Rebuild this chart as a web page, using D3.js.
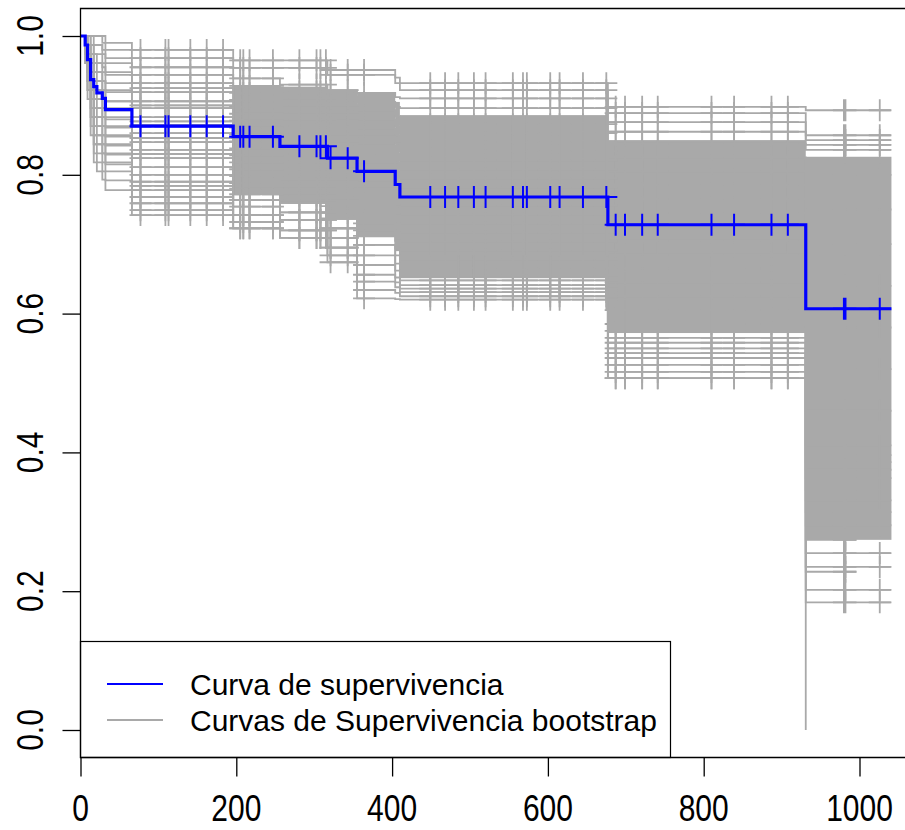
<!DOCTYPE html>
<html>
<head>
<meta charset="utf-8">
<script src="https://cdn.jsdelivr.net/npm/d3@7"></script>
<style>
  body { margin: 0; background: #fff; }
  svg { display: block; }
  text { font-family: "Liberation Sans", Arial, sans-serif; fill: #000; }
</style>
</head>
<body>
<svg id="chart" width="905" height="830"></svg>
<script>
// Event times (days) shared by the observed curve and the resampled curves
const eventTimes = [6, 9, 13, 17, 21, 28, 32, 66, 196, 256, 317, 355, 404, 410, 677, 931];

// Kaplan-Meier estimate: survival in each interval between event times
const survMain = [1.000, 0.987, 0.966, 0.937, 0.927, 0.918, 0.910, 0.894, 0.870,
                  0.855, 0.841, 0.824, 0.805, 0.786, 0.768, 0.728, 0.607];
const mainEnd = 1041;

// Censoring times (marked with "+")
const censorTimes = [77, 109, 113, 141, 162, 183, 205, 209, 217, 247, 281, 303, 308, 315,
                     321, 343, 364, 449, 468, 485, 505, 520, 555, 568, 573, 603, 615, 645,
                     675, 687, 699, 721, 741, 810, 839, 887, 908, 980, 982, 1026];

// Bootstrap Kaplan-Meier curves: survival in each interval (same breakpoints)
const bootSurv = [
  [1.000,1.000,1.000,1.000,1.000,1.000,1.000,0.990,0.980,0.965,0.965,0.951,0.951,0.940,0.932,0.898,0.893],
  [1.000,1.000,1.000,1.000,1.000,1.000,0.990,0.980,0.968,0.954,0.954,0.944,0.944,0.932,0.922,0.889,0.857],
  [1.000,1.000,1.000,1.000,0.987,0.987,0.980,0.968,0.955,0.939,0.930,0.922,0.918,0.912,0.910,0.876,0.850],
  [1.000,1.000,1.000,0.987,0.987,0.987,0.974,0.961,0.944,0.928,0.920,0.912,0.905,0.898,0.896,0.862,0.843],
  [1.000,1.000,1.000,0.987,0.974,0.974,0.961,0.948,0.932,0.918,0.910,0.900,0.893,0.884,0.873,0.845,0.836],
  [1.000,1.000,0.987,0.987,0.974,0.961,0.955,0.944,0.925,0.908,0.900,0.890,0.880,0.870,0.860,0.825,0.800],
  [1.000,1.000,0.987,0.974,0.961,0.961,0.948,0.932,0.919,0.898,0.890,0.878,0.867,0.857,0.847,0.805,0.750],
  [1.000,1.000,0.987,0.974,0.961,0.948,0.935,0.922,0.906,0.888,0.880,0.866,0.855,0.845,0.834,0.785,0.700],
  [1.000,1.000,0.987,0.974,0.948,0.948,0.935,0.919,0.900,0.878,0.870,0.855,0.842,0.830,0.821,0.765,0.640],
  [1.000,1.000,0.987,0.961,0.948,0.935,0.922,0.906,0.896,0.868,0.860,0.845,0.830,0.818,0.808,0.745,0.580],
  [1.000,0.987,0.974,0.961,0.935,0.935,0.922,0.906,0.883,0.858,0.850,0.834,0.818,0.805,0.795,0.725,0.520],
  [1.000,0.987,0.974,0.961,0.935,0.922,0.909,0.896,0.877,0.848,0.840,0.823,0.805,0.792,0.782,0.705,0.460],
  [1.000,0.987,0.974,0.948,0.922,0.922,0.909,0.893,0.872,0.838,0.830,0.812,0.792,0.780,0.769,0.685,0.410],
  [1.000,0.987,0.974,0.948,0.922,0.909,0.896,0.883,0.860,0.828,0.820,0.800,0.780,0.766,0.756,0.665,0.396],
  [1.000,0.987,0.961,0.948,0.909,0.909,0.896,0.880,0.853,0.818,0.810,0.790,0.768,0.754,0.743,0.645,0.386],
  [1.000,0.987,0.961,0.935,0.909,0.896,0.883,0.870,0.847,0.808,0.800,0.778,0.755,0.741,0.730,0.625,0.375],
  [1.000,0.987,0.961,0.935,0.896,0.896,0.883,0.868,0.836,0.798,0.790,0.766,0.742,0.729,0.717,0.605,0.363],
  [1.000,0.987,0.961,0.935,0.896,0.883,0.870,0.857,0.830,0.788,0.780,0.755,0.730,0.716,0.704,0.585,0.346],
  [1.000,0.987,0.948,0.922,0.883,0.883,0.870,0.855,0.824,0.780,0.770,0.745,0.720,0.705,0.691,0.575,0.331],
  [1.000,0.987,0.948,0.922,0.883,0.870,0.857,0.844,0.811,0.772,0.760,0.737,0.712,0.694,0.678,0.565,0.314],
  [1.000,0.974,0.948,0.909,0.870,0.870,0.857,0.842,0.800,0.764,0.746,0.723,0.699,0.684,0.666,0.558,0.295],
  [1.000,0.974,0.948,0.909,0.870,0.857,0.844,0.831,0.790,0.764,0.746,0.723,0.699,0.672,0.655,0.550,0.274],
  [1.000,0.974,0.935,0.896,0.857,0.857,0.844,0.829,0.784,0.754,0.735,0.709,0.684,0.662,0.648,0.543,0.255],
  [1.000,0.974,0.935,0.896,0.857,0.844,0.831,0.818,0.778,0.742,0.735,0.709,0.670,0.652,0.641,0.536,0.235],
  [1.000,0.974,0.935,0.883,0.844,0.844,0.831,0.815,0.768,0.742,0.720,0.695,0.656,0.645,0.636,0.526,0.228],
  [1.000,0.974,0.922,0.883,0.844,0.831,0.818,0.805,0.759,0.732,0.720,0.695,0.646,0.638,0.631,0.516,0.202],
  [1.000,0.961,0.922,0.870,0.831,0.818,0.805,0.792,0.749,0.723,0.709,0.684,0.634,0.630,0.625,0.507,0.184],
  [1.000,0.961,0.909,0.857,0.818,0.805,0.793,0.778,0.742,0.723,0.709,0.674,0.622,0.621,0.620,0.507,0.000]
];
// Last follow-up time of each bootstrap sample
const bootEnd = [1041,1041,1041,1041,1041,1041,1041,1041,1041,1041,1041,1041,1041,1041,
                 1041,1041,1041,996,1041,1041,1041,996,1041,1041,996,1041,1041,931];

// Range densely covered by overlapping bootstrap curves, per interval (null = none)
const bandHi = [null,null,null,null,null,null,null,null,null,0.929,0.927,0.922,0.918,0.905,0.886,0.850,0.826];
const bandLo = [null,null,null,null,null,null,null,null,null,0.771,0.758,0.735,0.710,0.690,0.651,0.572,0.274];

const xTicks = [0, 200, 400, 600, 800, 1000];
const yTicks = [0.0, 0.2, 0.4, 0.6, 0.8, 1.0];
const legendLabels = ["Curva de supervivencia", "Curvas de Supervivencia bootstrap"];

const BLUE = "#0000ff", GRAY = "#a9a9a9";
const FONT = 30, STRETCH = 1.2;   // axis glyphs drawn slightly taller than wide
const svg = d3.select("#chart");

const x = d3.scaleLinear().domain([0, 1000]).range([80.5, 859.5]);
const y = d3.scaleLinear().domain([0, 1]).range([730, 36]);
const frame = { left: 80.5, top: 8.5, right: 960, bottom: 757.5 };

svg.append("defs").append("clipPath").attr("id", "plotClip")
  .append("rect").attr("x", frame.left).attr("y", frame.top)
  .attr("width", frame.right - frame.left).attr("height", frame.bottom - frame.top);

const plot = svg.append("g").attr("clip-path", "url(#plotClip)");

const intervalEnd = i => (i < eventTimes.length ? eventTimes[i] : Infinity);
const intervalStart = i => (i === 0 ? 0 : eventTimes[i - 1]);
const idxAt = t => eventTimes.filter(e => e <= t).length;

function stepPoints(vals, end) {
  const pts = [[0, vals[0]]];
  for (let i = 0; i < eventTimes.length && eventTimes[i] <= end; i++) {
    pts.push([eventTimes[i], vals[i + 1]]);
  }
  pts.push([end, vals[idxAt(end)]]);
  return pts;
}

const line = d3.line().x(d => x(d[0])).y(d => y(d[1])).curve(d3.curveStepAfter);

function plusPath(vals, end, half) {
  return censorTimes.filter(t => t <= end).map(t => {
    const px = x(t), py = y(vals[idxAt(t)]);
    return `M${px - half},${py}H${px + half}M${px},${py - half}V${py + half}`;
  }).join("");
}

// Dense core of the bootstrap curves
plot.append("g").selectAll("rect")
  .data(bandHi.map((hi, i) => ({ i, hi, lo: bandLo[i] })).filter(d => d.hi !== null))
  .join("rect")
  .attr("x", d => x(intervalStart(d.i)))
  .attr("width", d => x(Math.min(intervalEnd(d.i), mainEnd)) - x(intervalStart(d.i)))
  .attr("y", d => y(d.hi))
  .attr("height", d => y(d.lo) - y(d.hi))
  .attr("fill", GRAY);

// Bootstrap curves
const boot = plot.append("g");
bootSurv.forEach((vals, k) => {
  boot.append("path").attr("d", line(stepPoints(vals, bootEnd[k])))
    .attr("fill", "none").attr("stroke", GRAY).attr("stroke-width", 1.8);
  boot.append("path").attr("d", plusPath(vals, bootEnd[k], 11))
    .attr("fill", "none").attr("stroke", GRAY).attr("stroke-width", 1.8);
});

// Observed survival curve
plot.append("path").attr("d", line(stepPoints(survMain, mainEnd)))
  .attr("fill", "none").attr("stroke", BLUE).attr("stroke-width", 3.2);
plot.append("path").attr("d", plusPath(survMain, mainEnd, 11))
  .attr("fill", "none").attr("stroke", BLUE).attr("stroke-width", 2);

// Legend
const lg = svg.append("g");
lg.append("rect").attr("x", 80.5).attr("y", 641.5).attr("width", 590).attr("height", 116)
  .attr("fill", "#fff").attr("stroke", "#000").attr("stroke-width", 1.2);
[BLUE, GRAY].forEach((c, i) => {
  const ly = 684 + i * 36;
  lg.append("line").attr("x1", 107).attr("x2", 163).attr("y1", ly).attr("y2", ly)
    .attr("stroke", c).attr("stroke-width", 2);
  lg.append("text").attr("x", 190).attr("y", ly)
    .attr("dy", "0.36em").attr("font-size", FONT).text(legendLabels[i]);
});

// Frame
svg.append("path")
  .attr("d", `M${frame.right},${frame.top}H${frame.left}V${frame.bottom}H${frame.right}`)
  .attr("fill", "none").attr("stroke", "#000").attr("stroke-width", 1.3);

// Axes (ticks from d3, labels set separately)
const xAxis = svg.append("g").attr("transform", `translate(0,${frame.bottom})`)
  .call(d3.axisBottom(x).tickValues(xTicks).tickSize(19).tickSizeOuter(0).tickFormat(""));
xAxis.select(".domain").remove();
xAxis.selectAll("line").attr("stroke-width", 1.3);
svg.append("g").selectAll("text").data(xTicks).join("text")
  .attr("transform", d => `translate(${x(d)},821) scale(1,${STRETCH})`)
  .attr("text-anchor", "middle").attr("font-size", FONT)
  .text(d => d3.format("d")(d));

const yAxis = svg.append("g").attr("transform", `translate(${frame.left},0)`)
  .call(d3.axisLeft(y).tickValues(yTicks).tickSize(18).tickSizeOuter(0).tickFormat(""));
yAxis.select(".domain").remove();
yAxis.selectAll("line").attr("stroke-width", 1.3);
svg.append("g").selectAll("text").data(yTicks).join("text")
  .attr("transform", d => `translate(43,${y(d)}) rotate(-90) scale(1,${STRETCH})`)
  .attr("text-anchor", "middle").attr("font-size", FONT)
  .text(d => d3.format(".1f")(d));
</script>
</body>
</html>
